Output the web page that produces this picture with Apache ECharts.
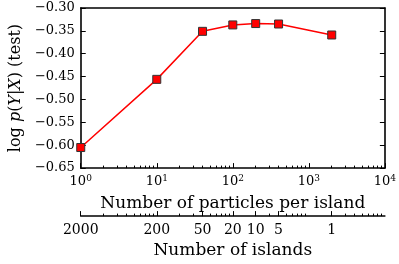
<!DOCTYPE html>
<html><head><meta charset="utf-8">
<script src="https://cdn.jsdelivr.net/npm/echarts@6/dist/echarts.min.js"></script>
<style>html,body{margin:0;padding:0;background:#fff}#c{width:399px;height:264px}</style>
</head><body><div id="c"></div>
<script>
// data
var particles = [1, 10, 40, 100, 200, 400, 2000];
var logLik = [-0.605, -0.456, -0.351, -0.337, -0.334, -0.335, -0.359];
var particleTicks = [1, 10, 100, 1000, 10000];
var islandTickPos = [1, 10, 40, 100, 200, 400, 2000];
var islandLabels = ['2000', '200', '50', '20', '10', '5', '1'];

var minorTicks = [];
for (var k = 0; k < 4; k++) for (var m = 2; m <= 9; m++) minorTicks.push(m * Math.pow(10, k));

var FONT = 'DejaVu Serif';
var BLACK = '#000';
function baseX(extra) {
  var o = {type: 'log', logBase: 10, min: 1, max: 10000, gridIndex: 0,
    splitLine: {show: false}, minorTick: {show: false}, minorSplitLine: {show: false}};
  for (var key in extra) o[key] = extra[key];
  return o;
}
var chart = echarts.init(document.getElementById('c'), null, {renderer: 'canvas'});
chart.setOption({
  animation: false,
  backgroundColor: '#fff',
  grid: {left: 76, right: 13, top: 8, bottom: 92, containLabel: false},
  xAxis: [
    baseX({position: 'bottom',
      axisLine: {show: true, onZero: false, lineStyle: {color: BLACK, width: 1.6}},
      axisTick: {show: true, inside: true, length: 5, lineStyle: {color: BLACK, width: 1}, customValues: particleTicks},
      axisLabel: {show: true, margin: 6, customValues: particleTicks, color: BLACK, fontFamily: FONT,
        formatter: function (v) { var e = Math.round(Math.log10(v)); return '{b|10}{s|' + e + '}'; },
        rich: {b: {fontSize: 13, fontFamily: FONT, color: BLACK}, s: {fontSize: 9, fontFamily: FONT, color: BLACK, padding: [0, 0, 7, 0]}}},
      name: 'Number of particles per island', nameLocation: 'middle', nameGap: 27,
      nameTextStyle: {fontFamily: FONT, fontSize: 17, color: BLACK}}),
    baseX({position: 'bottom',
      axisLine: {show: false, onZero: false},
      axisTick: {show: true, inside: true, length: 2.5, lineStyle: {color: BLACK, width: 1}, customValues: minorTicks},
      axisLabel: {show: false}}),
    baseX({position: 'bottom', offset: 48,
      axisLine: {show: true, onZero: false, lineStyle: {color: BLACK, width: 1.6}},
      axisTick: {show: true, inside: true, length: 5, lineStyle: {color: BLACK, width: 1}, customValues: islandTickPos},
      axisLabel: {show: true, margin: 7, customValues: islandTickPos, color: BLACK, fontFamily: FONT, fontSize: 14,
        formatter: function (v) { var i = 0, best = 1e9; for (var j = 0; j < islandTickPos.length; j++) { var d = Math.abs(Math.log(v) - Math.log(islandTickPos[j])); if (d < best) { best = d; i = j; } } return islandLabels[i]; }},
      name: 'Number of islands', nameLocation: 'middle', nameGap: 25,
      nameTextStyle: {fontFamily: FONT, fontSize: 17, color: BLACK}}),
    baseX({position: 'bottom', offset: 48,
      axisLine: {show: false, onZero: false},
      axisTick: {show: true, inside: true, length: 2.5, lineStyle: {color: BLACK, width: 1}, customValues: minorTicks},
      axisLabel: {show: false}}),
    baseX({position: 'top',
      axisLine: {show: true, onZero: false, lineStyle: {color: BLACK, width: 1.6}},
      axisTick: {show: false}, axisLabel: {show: false}})
  ],
  yAxis: [
    {type: 'value', position: 'left', min: -0.65, max: -0.30, interval: 0.05,
      splitLine: {show: false},
      axisLine: {show: true, onZero: false, lineStyle: {color: BLACK, width: 1.6}},
      axisTick: {show: true, inside: true, length: 5, lineStyle: {color: BLACK, width: 1}},
      axisLabel: {show: true, margin: 6, color: BLACK, fontFamily: FONT, fontSize: 13,
        formatter: function (v) { return '\u2212' + Math.abs(v).toFixed(2); }},
      name: '{n|log }{i|p}{n|(}{i|Y}{n||}{i|X}{n|) (test)}', nameLocation: 'middle', nameGap: 52, nameRotate: 90,
      nameTextStyle: {fontFamily: FONT, fontSize: 16, color: BLACK,
        rich: {n: {fontFamily: FONT, fontSize: 16, color: BLACK}, i: {fontFamily: FONT, fontSize: 16, fontStyle: 'italic', color: BLACK}}}},
    {type: 'value', position: 'right', min: -0.65, max: -0.30, interval: 0.05,
      splitLine: {show: false},
      axisLine: {show: true, onZero: false, lineStyle: {color: BLACK, width: 1.6}},
      axisTick: {show: true, inside: true, length: 5, lineStyle: {color: BLACK, width: 1}},
      axisLabel: {show: false}}
  ],
  series: [{
    type: 'line', xAxisIndex: 0, yAxisIndex: 0,
    data: particles.map(function (p, i) { return [p, logLik[i]]; }),
    symbol: 'rect', symbolSize: 8,
    lineStyle: {color: '#ff0000', width: 1.5},
    itemStyle: {color: '#ff0000', borderColor: '#333', borderWidth: 1},
    clip: true
  }]
});
</script></body></html>
